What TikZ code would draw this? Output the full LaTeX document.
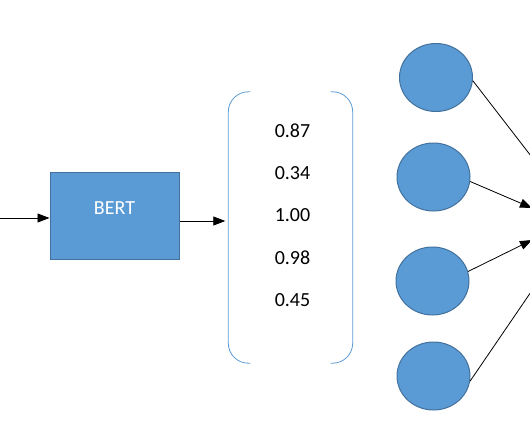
\documentclass[tikz,border=0pt]{standalone}
\usepackage{fontspec}
\setmainfont{Carlito}
\usetikzlibrary{arrows.meta,positioning,shapes.geometric}
\definecolor{cellblue}{HTML}{5B9BD5}
\definecolor{rimblue}{HTML}{41719C}
\tikzset{
  bertbox/.style={draw=rimblue,fill=cellblue,line width=1pt,minimum width=129pt,minimum height=87pt},
  unit/.style={ellipse,draw=rimblue,fill=cellblue,line width=1pt,minimum width=73pt,minimum height=68pt},
  vecbox/.style={minimum width=124pt,minimum height=271pt},
  brk/.style={cellblue,line width=0.8pt,rounded corners=20pt},
  arr/.style={-{Triangle[length=12pt,width=9pt]},line width=0.8pt},
  wire/.style={line width=0.8pt},
  val/.style={font=\fontsize{20}{24}\selectfont},
}

\begin{document}
\begin{tikzpicture}[x=1pt,y=-1pt]
\useasboundingbox (0,0) rectangle (530,442);
\coordinate (in) at (0,218);
\coordinate (mid) at (0,221);
\node[bertbox] (bert) at (114.5,215.5) {};
\node[val,text=white] (bertlbl) at ([yshift=7pt]bert.center) {BERT};
\node[vecbox] (vec) at (290.5,227.5) {};
\draw[brk] ([xshift=22pt]vec.north west) -- (vec.north west) -- (vec.south west) -- ([xshift=22pt]vec.south west);
\draw[brk] ([xshift=-22pt]vec.north east) -- (vec.north east) -- (vec.south east) -- ([xshift=-22pt]vec.south east);
\foreach \v [count=\i] in {0.87,0.34,1.00,0.98,0.45}{
  \node[val] (n\i) at (292.5,131+42.25*\i-42.25) {\v};
}
\foreach \x/\y [count=\i] in {436/77.5,433.5/177,432.5/281,433.5/376}{
  \node[unit] (h\i) at (\x,\y) {};
}
\coordinate (t1) at (548,178);
\coordinate (t2) at (532,208);
\coordinate (t3) at (532,240);
\coordinate (t4) at (548,267);
\draw[arr] (in) -- (in -| bert.west);
\draw[arr,shorten >=3pt] (bert.east |- mid) -- (vec.west |- mid);
\draw[wire] (h1.-5) -- (t1);
\draw[arr] (h2.-7) -- (t2);
\draw[arr] (h3.15) -- (t3);
\draw[wire] (h4.-8) -- (t4);
\end{tikzpicture}
\end{document}
